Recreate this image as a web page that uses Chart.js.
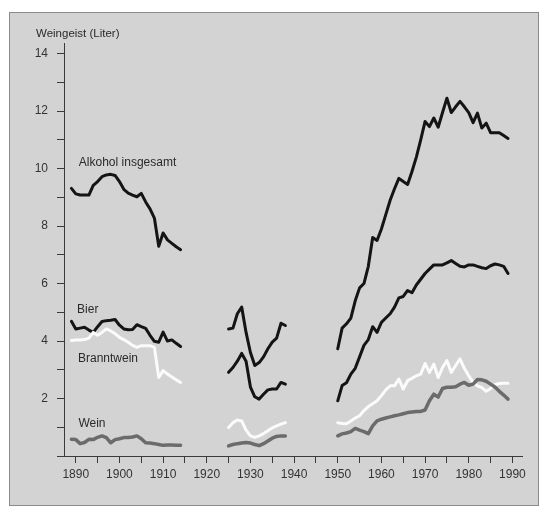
<!DOCTYPE html>
<html>
<head>
<meta charset="utf-8">
<script src="https://cdn.jsdelivr.net/npm/chart.js@4.4.1/dist/chart.umd.min.js"></script>
<style>
  html, body { margin: 0; padding: 0; background: #fff; }
  #wrap { width: 546px; height: 516px; }
</style>
</head>
<body>
<div id="wrap"><canvas id="mycanvas"></canvas></div>
<script>
// years per segment (gaps: war years)
var years1 = [1889, 1890, 1891, 1892, 1893, 1894, 1895, 1896, 1897, 1898, 1899, 1900, 1901,
              1902, 1903, 1904, 1905, 1906, 1907, 1908, 1909, 1910, 1911, 1912, 1913, 1914];
var years2 = [1925, 1926, 1927, 1928, 1929, 1930, 1931, 1932, 1933, 1934, 1935, 1936, 1937, 1938];
var years3 = [1950, 1951, 1952, 1953, 1954, 1955, 1956, 1957, 1958, 1959,
              1960, 1961, 1962, 1963, 1964, 1965, 1966, 1967, 1968, 1969,
              1970, 1971, 1972, 1973, 1974, 1975, 1976, 1977, 1978, 1979,
              1980, 1981, 1982, 1983, 1984, 1985, 1986, 1987, 1988, 1989];

// Alkohol insgesamt
var alkohol1 = [9.31, 9.12, 9.08, 9.08, 9.08, 9.42, 9.55, 9.72, 9.78, 9.80, 9.76, 9.55, 9.28,
                9.15, 9.08, 9.02, 9.14, 8.84, 8.60, 8.28, 7.30, 7.76, 7.52, 7.40, 7.28, 7.18];
var alkohol2 = [4.42, 4.45, 4.95, 5.18, 4.30, 3.60, 3.15, 3.25, 3.45, 3.73, 3.96, 4.10, 4.62, 4.54];
var alkohol3 = [3.73, 4.45, 4.60, 4.80, 5.40, 5.85, 6.00, 6.60, 7.60, 7.50,
                7.90, 8.40, 8.90, 9.30, 9.66, 9.55, 9.45, 9.90, 10.40, 11.00,
                11.64, 11.46, 11.76, 11.44, 11.95, 12.45, 11.95, 12.15, 12.34, 12.15,
                11.95, 11.60, 11.93, 11.41, 11.58, 11.25, 11.25, 11.25, 11.15, 11.05];

// Bier
var bier1 = [4.69, 4.42, 4.45, 4.48, 4.38, 4.30, 4.50, 4.68, 4.71, 4.72, 4.75, 4.55, 4.42,
             4.39, 4.40, 4.57, 4.50, 4.44, 4.20, 3.99, 3.96, 4.31, 4.00, 4.04, 3.92, 3.81];
var bier2 = [2.91, 3.08, 3.30, 3.57, 3.30, 2.40, 2.06, 1.98, 2.15, 2.30, 2.33, 2.33, 2.56, 2.50];
var bier3 = [1.92, 2.45, 2.55, 2.85, 3.05, 3.45, 3.85, 4.05, 4.50, 4.30,
             4.65, 4.80, 4.95, 5.18, 5.50, 5.55, 5.76, 5.68, 5.95, 6.15,
             6.35, 6.50, 6.65, 6.65, 6.65, 6.72, 6.80, 6.70, 6.60, 6.58,
             6.65, 6.65, 6.60, 6.55, 6.52, 6.62, 6.68, 6.65, 6.60, 6.35];

// Branntwein
var brannt1 = [4.02, 4.04, 4.04, 4.05, 4.10, 4.30, 4.20, 4.30, 4.42, 4.35, 4.25, 4.13, 4.05,
               3.96, 3.85, 3.78, 3.84, 3.84, 3.84, 3.78, 2.73, 2.97, 2.85, 2.75, 2.65, 2.56];
var brannt2 = [0.99, 1.16, 1.25, 1.22, 0.90, 0.70, 0.65, 0.70, 0.78, 0.88, 0.98, 1.05, 1.11, 1.16];
var brannt3 = [1.16, 1.13, 1.12, 1.22, 1.32, 1.40, 1.58, 1.72, 1.82, 1.92,
               2.10, 2.30, 2.44, 2.44, 2.68, 2.33, 2.62, 2.70, 2.79, 2.85,
               3.22, 2.91, 3.20, 2.73, 3.08, 3.32, 2.91, 3.15, 3.38, 3.05,
               2.79, 2.56, 2.44, 2.38, 2.25, 2.35, 2.48, 2.52, 2.53, 2.53];

// Wein
var wein1 = [0.58, 0.57, 0.43, 0.47, 0.58, 0.57, 0.65, 0.70, 0.64, 0.46, 0.57, 0.60, 0.64,
             0.64, 0.66, 0.70, 0.60, 0.46, 0.45, 0.43, 0.40, 0.37, 0.38, 0.38, 0.37, 0.37];
var wein2 = [0.35, 0.40, 0.43, 0.45, 0.47, 0.45, 0.40, 0.36, 0.43, 0.52, 0.62, 0.68, 0.70, 0.70];
var wein3 = [0.70, 0.77, 0.80, 0.85, 0.96, 0.90, 0.85, 0.78, 1.05, 1.22,
             1.28, 1.32, 1.36, 1.40, 1.43, 1.47, 1.51, 1.53, 1.55, 1.55,
             1.60, 1.92, 2.15, 2.05, 2.35, 2.39, 2.39, 2.41, 2.50, 2.56,
             2.46, 2.50, 2.66, 2.65, 2.60, 2.50, 2.40, 2.25, 2.12, 1.98];

var gapYears = [1920, 1945];

// series labels: text, year, value
var seriesLabels = [
  ['Alkohol insgesamt', 1890.7, 10.2],
  ['Bier', 1890.3, 5.1],
  ['Branntwein', 1890.5, 3.4],
  ['Wein', 1890.6, 1.12]
];

function points(a, b, c) {
  var out = [];
  var segs = [[years1, a], [years2, b], [years3, c]];
  for (var s = 0; s < segs.length; s++) {
    for (var i = 0; i < segs[s][0].length; i++) {
      out.push({x: segs[s][0][i], y: segs[s][1][i]});
    }
    if (s < gapYears.length) out.push({x: gapYears[s], y: null});
  }
  return out;
}

var fontFam = '"Liberation Sans", Arial, sans-serif';

var panelPlugin = {
  id: 'panel',
  beforeDraw: function(chart) {
    var c = chart.ctx;
    c.save();
    c.fillStyle = '#ffffff';
    c.fillRect(0, 0, chart.width, chart.height);
    c.fillStyle = '#d3d3d3';
    c.fillRect(9, 12, 529, 493);
    c.strokeStyle = '#8a8a8a';
    c.lineWidth = 1;
    c.strokeRect(9.5, 12.5, 529, 493);
    c.restore();
  },
  afterDatasetsDraw: function(chart) {
    var c = chart.ctx;
    var xs = chart.scales.x, ys = chart.scales.y;
    c.save();
    c.fillStyle = '#2a2a2a';
    c.font = '12px ' + fontFam;
    c.textBaseline = 'middle';
    c.textAlign = 'left';
    for (var i = 0; i < seriesLabels.length; i++) {
      var l = seriesLabels[i];
      c.fillText(l[0], xs.getPixelForValue(l[1]), ys.getPixelForValue(l[2]));
    }
    c.font = '11.5px ' + fontFam;
    c.fillText('Weingeist (Liter)', chart.chartArea.left - 28, chart.chartArea.top - 9);
    c.restore();
  }
};

var lineStyle = {
  pointRadius: 0,
  borderWidth: 3,
  tension: 0,
  spanGaps: false,
  borderJoinStyle: 'round',
  borderCapStyle: 'round'
};

var chartdata = {
  datasets: [
    Object.assign({label: 'Wein', data: points(wein1, wein2, wein3), borderColor: '#6b6b6b', order: 1}, lineStyle, {borderWidth: 3.5}),
    Object.assign({label: 'Branntwein', data: points(brannt1, brannt2, brannt3), borderColor: '#fbfbfb', order: 2}, lineStyle),
    Object.assign({label: 'Bier', data: points(bier1, bier2, bier3), borderColor: '#141414', order: 3}, lineStyle),
    Object.assign({label: 'Alkohol insgesamt', data: points(alkohol1, alkohol2, alkohol3), borderColor: '#141414', order: 4}, lineStyle)
  ]
};

var ctx = document.getElementById('mycanvas');

var lineGraph = new Chart(ctx, {
  type: 'line',
  data: chartdata,
  plugins: [panelPlugin],
  options: {
    responsive: true,
    maintainAspectRatio: false,
    animation: false,
    layout: { padding: { top: 43, right: 24, left: 0, bottom: 0 } },
    plugins: { legend: { display: false }, tooltip: { enabled: false } },
    scales: {
      x: {
        type: 'linear',
        min: 1887.3,
        max: 1992.2,
        border: { color: '#3a3a3a', width: 1 },
        grid: { drawOnChartArea: false, tickLength: 7, color: '#3a3a3a' },
        ticks: {
          stepSize: 5,
          includeBounds: false,
          autoSkip: false,
          maxRotation: 0,
          padding: 4,
          color: '#333',
          font: { family: fontFam, size: 12 },
          callback: function(v) { return v % 10 === 0 ? String(v) : ''; }
        },
        afterFit: function(s) { s.height = 60; }
      },
      y: {
        min: 0,
        max: 14.37,
        border: { color: '#3a3a3a', width: 1 },
        grid: { drawOnChartArea: false, tickLength: 7, color: '#3a3a3a' },
        ticks: {
          stepSize: 1,
          includeBounds: false,
          autoSkip: false,
          padding: 9,
          color: '#333',
          font: { family: fontFam, size: 12 },
          callback: function(v) { return (v > 0 && v % 2 === 0) ? String(v) : ''; }
        },
        afterFit: function(s) { s.width = 64; }
      }
    }
  }
});
</script>
</body>
</html>
